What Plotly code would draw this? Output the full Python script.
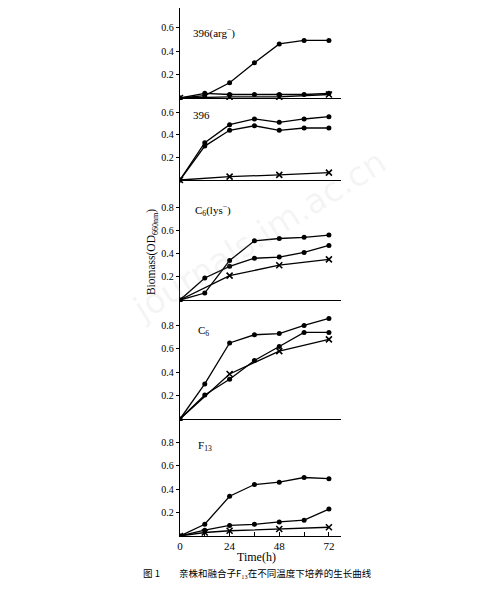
import plotly.graph_objects as go

# page body has an 8px margin; work in page pixels and convert
OFF = 8
FW, FH = 498 - 2 * OFF, 590 - 2 * OFF


def px(x):
    return (x - OFF) / FW


def py(y):
    return 1 - (y - OFF) / FH


# ---- data ----
T = [0, 12, 24, 36, 48, 60, 72]
T_X = [0, 24, 48, 72]
T_X5 = [0, 12, 24, 48, 72]

p1_label = "396(arg<sup>−</sup>)"
p1_a = [0, 0.02, 0.13, 0.30, 0.46, 0.49, 0.49]
p1_b = [0, 0.04, 0.03, 0.03, 0.03, 0.03, 0.04]
p1_x = [0, 0.01, 0.01, 0.03]

p2_label = "396"
p2_a = [0, 0.33, 0.49, 0.54, 0.51, 0.54, 0.56]
p2_b = [0, 0.30, 0.44, 0.48, 0.44, 0.46, 0.46]
p2_x = [0, 0.03, 0.045, 0.065]

p3_label = "C<sub>6</sub>(lys<sup>−</sup>)"
p3_a = [0, 0.06, 0.34, 0.51, 0.53, 0.54, 0.56]
p3_b = [0, 0.19, 0.29, 0.36, 0.37, 0.41, 0.47]
p3_x = [0, 0.21, 0.30, 0.35]

p4_label = "C<sub>6</sub>"
p4_a = [0, 0.30, 0.65, 0.72, 0.73, 0.80, 0.86]
p4_b = [0, 0.205, 0.34, 0.50, 0.62, 0.74, 0.74]
p4_x = [0, 0.385, 0.58, 0.68]

p5_label = "F<sub>13</sub>"
p5_a = [0, 0.10, 0.34, 0.44, 0.46, 0.50, 0.49]
p5_b = [0, 0.05, 0.09, 0.10, 0.12, 0.135, 0.23]
p5_x = [0, 0.03, 0.045, 0.06, 0.075]

x_tickvals = [0, 24, 48, 72]
x_ticktext = ["0", "24", "48", "72"]
y_ticks_short = [0.2, 0.4, 0.6]
y_ticks_long = [0.2, 0.4, 0.6, 0.8]

x_title = "Time(h)"
y_title = "Biomass(OD<sub>660nm</sub>)"
caption = "图 1　　亲株和融合子F₁₃在不同温度下培养的生长曲线"
watermark = "journals.im.ac.cn"

panels = [
    dict(label=p1_label, a=p1_a, b=p1_b, x=p1_x, tx=T_X, ticks=y_ticks_short,
         base=98, scale=117.5, top=8, bot=100, lab=(189, 33)),
    dict(label=p2_label, a=p2_a, b=p2_b, x=p2_x, tx=T_X, ticks=y_ticks_short,
         base=180, scale=113, top=100, bot=197, lab=(189, 115)),
    dict(label=p3_label, a=p3_a, b=p3_b, x=p3_x, tx=T_X, ticks=y_ticks_long,
         base=300, scale=116, top=195, bot=302, lab=(191, 210)),
    dict(label=p4_label, a=p4_a, b=p4_b, x=p4_x, tx=T_X, ticks=y_ticks_long,
         base=419, scale=117, top=300, bot=421, lab=(194, 331)),
    dict(label=p5_label, a=p5_a, b=p5_b, x=p5_x, tx=T_X5, ticks=y_ticks_long,
         base=536, scale=117, top=420, bot=536, lab=(194, 446)),
]

SERIF = "Liberation Serif"
fig = go.Figure()
line = dict(color="black", width=1.3)

layout = dict(
    width=FW, height=FH, margin=dict(l=0, r=0, t=0, b=0),
    paper_bgcolor="white", plot_bgcolor="rgba(0,0,0,0)",
    showlegend=False,
    xaxis=dict(domain=[px(178), px(340)], range=[0, 77.8], anchor="y5",
               showline=True, linecolor="black", linewidth=1.3,
               ticks="inside", ticklen=4, tickcolor="black", tickwidth=1,
               tickvals=x_tickvals, ticktext=x_ticktext,
               minor=dict(tickmode="linear", tick0=0, dtick=12, ticks="inside",
                          ticklen=4, tickcolor="black", tickwidth=1, showgrid=False),
               tickfont=dict(family=SERIF, size=11, color="black"),
               showgrid=False, zeroline=False),
)

annotations = []
for i, p in enumerate(panels, start=1):
    yname = "y" if i == 1 else f"y{i}"
    lname = "yaxis" if i == 1 else f"yaxis{i}"
    rng = [(p["base"] - p["bot"]) / p["scale"], (p["base"] - p["top"]) / p["scale"]]
    dom = [py(p["bot"]), py(p["top"])]
    layout[lname] = dict(
        domain=dom, range=rng, anchor="x",
        showline=True, linecolor="black", linewidth=1.3,
        ticks="outside", ticklen=3, tickcolor="black", tickwidth=1,
        tickvals=p["ticks"], ticktext=[f"{v:.1f}" for v in p["ticks"]],
        tickfont=dict(family=SERIF, size=10, color="black"),
        showgrid=False, zeroline=True, zerolinecolor="black", zerolinewidth=1.3,
    )
    fig.add_trace(go.Scatter(x=T, y=p["a"], yaxis=yname, mode="lines+markers",
                             line=line, marker=dict(symbol="circle", size=5, color="black")))
    fig.add_trace(go.Scatter(x=T, y=p["b"], yaxis=yname, mode="lines+markers",
                             line=line, marker=dict(symbol="circle", size=5, color="black")))
    fig.add_trace(go.Scatter(x=p["tx"], y=p["x"], yaxis=yname, mode="lines+markers",
                             line=line,
                             marker=dict(symbol="x-thin", size=6,
                                         line=dict(color="black", width=1.6))))
    annotations.append(dict(text=p["label"], x=px(p["lab"][0]), y=py(p["lab"][1]),
                            xref="paper", yref="paper", xanchor="left", yanchor="middle",
                            showarrow=False, font=dict(family=SERIF, size=11, color="black")))

annotations += [
    dict(text=x_title, x=px(255), y=py(557), xref="paper", yref="paper",
         xanchor="center", yanchor="middle",
         showarrow=False, font=dict(family=SERIF, size=12, color="black")),
    dict(text=y_title, x=px(150), y=py(252), xref="paper", yref="paper",
         xanchor="center", yanchor="middle",
         textangle=-90, showarrow=False, font=dict(family=SERIF, size=11.5, color="black")),
    dict(text=caption, x=px(256), y=0, xref="paper", yref="paper",
         xanchor="center", yanchor="bottom",
         showarrow=False, font=dict(family="Noto Sans CJK SC", size=9.5, color="black")),
    dict(text=watermark, x=px(258), y=py(235), xref="paper", yref="paper",
         xanchor="center", yanchor="middle",
         textangle=-32, showarrow=False,
         font=dict(family="DejaVu Sans", size=34, color="rgba(170,170,170,0.12)")),
]
layout["annotations"] = annotations
fig.update_layout(**layout)
fig.write_html("out.html")
